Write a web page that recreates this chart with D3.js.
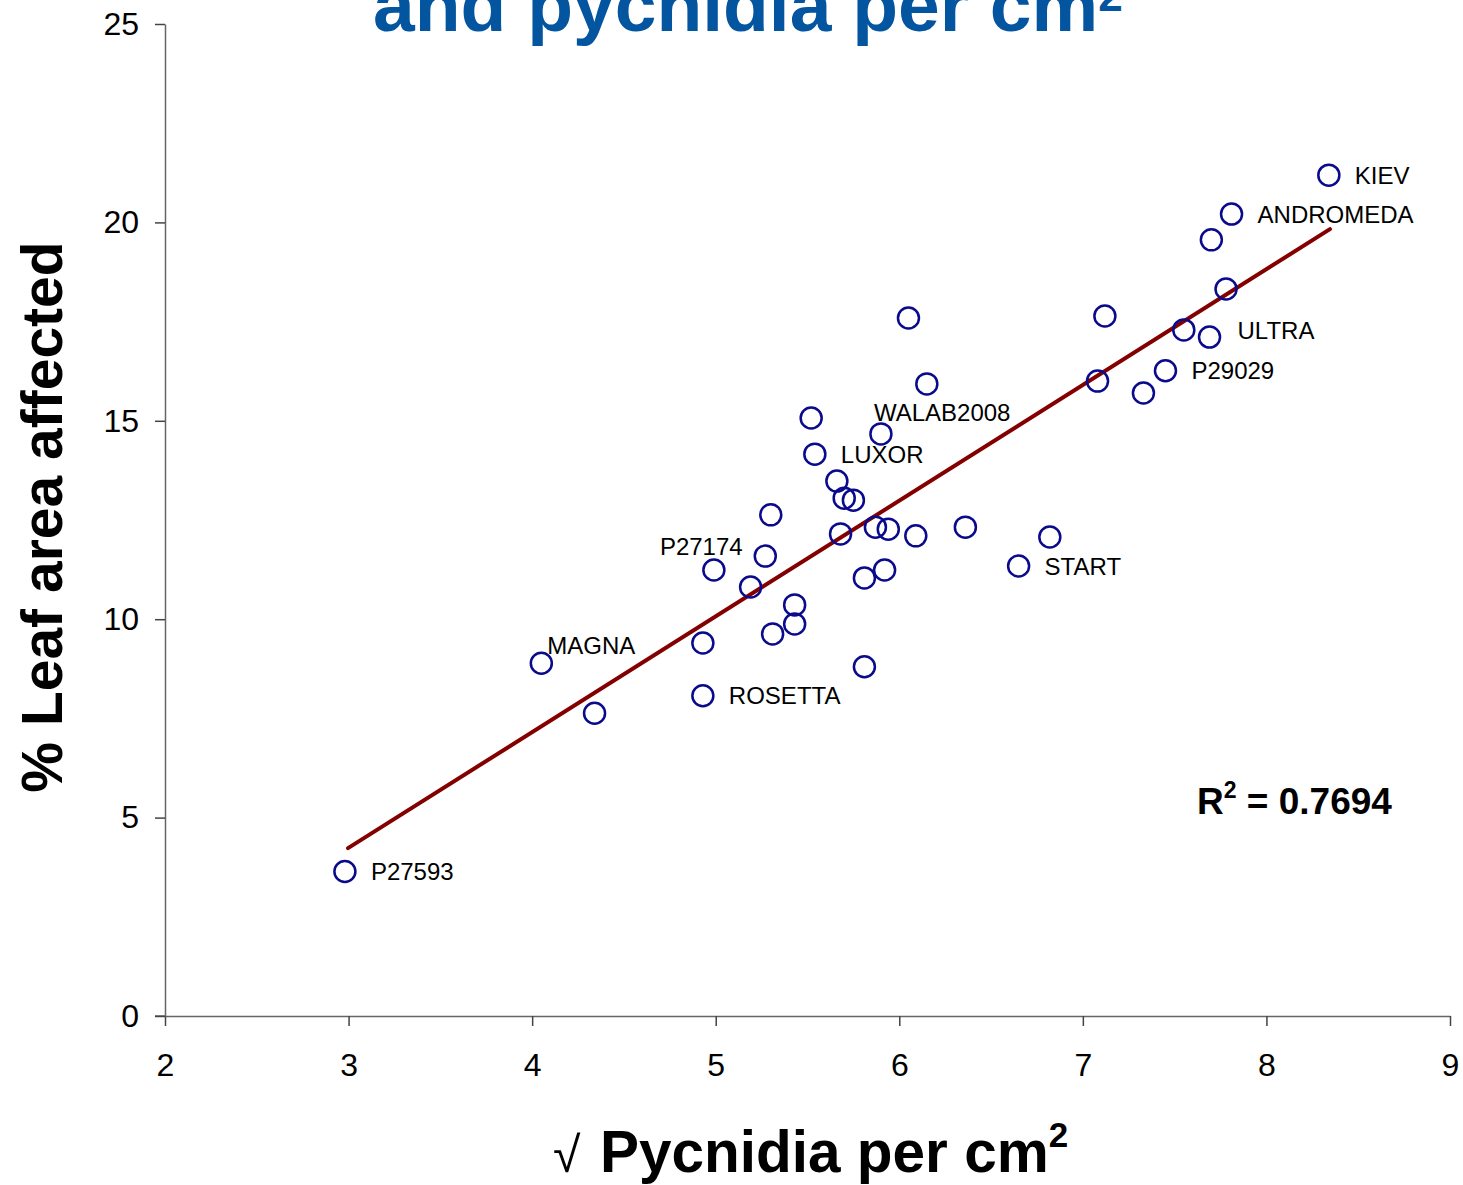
<!DOCTYPE html>
<html>
<head>
<meta charset="utf-8">
<script src="https://cdn.jsdelivr.net/npm/d3@7"></script>
<style>
  body { margin: 0; background: #fff; }
  svg text { font-family: "Liberation Sans", Arial, sans-serif; }
</style>
</head>
<body>
<div id="chart"></div>
<script>
// sqrt pycnidia per cm2 (x) and % leaf area affected (y), one entry per variety
let pycnidia = [2.98, 4.05, 4.34, 4.93, 4.93, 4.99, 5.19, 5.27, 5.30, 5.31, 5.43, 5.43,
    5.52, 5.54, 5.66, 5.70, 5.75, 5.68, 5.81, 5.81, 5.87, 5.94, 5.92, 5.90, 6.05, 6.15,
    6.09, 6.36, 6.65, 6.82, 7.08, 7.12, 7.33, 7.45, 7.55, 7.69, 7.70, 7.78, 7.81, 8.34];
let leafArea = [3.64, 8.89, 7.63, 8.07, 9.40, 11.24, 10.81, 11.59, 12.63, 9.63, 10.36, 9.88,
    15.07, 14.16, 13.48, 13.05, 13.00, 12.15, 11.04, 8.80, 12.32, 12.27, 11.24, 14.67, 17.59, 15.93,
    12.10, 12.32, 11.34, 12.07, 16.00, 17.64, 15.70, 16.26, 17.29, 17.11, 19.56, 18.32, 20.21, 21.19];
let names = ["P27593", "MAGNA", "", "ROSETTA", "", "P27174", "", "", "", "", "", "",
    "", "LUXOR", "", "", "", "", "", "", "", "", "", "WALAB2008", "", "",
    "", "", "START", "", "", "", "", "P29029", "", "ULTRA", "", "", "ANDROMEDA", "KIEV"];

// linear trend line end points
let trendX = [2.997, 8.346];
let trendY = [4.23, 19.83];

let xTicks = [2, 3, 4, 5, 6, 7, 8, 9];
let yTicks = [0, 5, 10, 15, 20, 25];
let rSquared = "0.7694";

let width = 1463, height = 1185;
let margin = {top: 24, right: 13, bottom: 169, left: 165};
let innerW = width - margin.left - margin.right;
let innerH = height - margin.top - margin.bottom;

let svg = d3.select("#chart").append("svg")
    .attr("width", width)
    .attr("height", height);

// title (cut off at the top of the image)
let title = svg.append("text")
    .attr("x", 373)
    .attr("y", 31)
    .attr("fill", "#0455a0")
    .attr("font-weight", "bold")
    .attr("font-size", 75);
title.append("tspan").text("and pycnidia per cm");
title.append("tspan").attr("font-size", 44).attr("dy", -20).text("2");

let g = svg.append("g")
    .attr("transform", `translate(${margin.left},${margin.top})`);

let x = d3.scaleLinear().domain([2, 9]).range([0, innerW]);
let y = d3.scaleLinear().domain([0, 25]).range([innerH, 0]);

let xAxis = d3.axisBottom(x).tickValues(xTicks).tickFormat(d3.format("d"))
    .tickSize(10).tickSizeOuter(0).tickPadding(27);
let yAxis = d3.axisLeft(y).tickValues(yTicks).tickFormat(d3.format("d"))
    .tickSize(10).tickSizeOuter(0).tickPadding(16);

let xAxisGroup = g.append("g")
    .attr("transform", `translate(0,${innerH})`)
    .call(xAxis);
let yAxisGroup = g.append("g").call(yAxis);

[xAxisGroup, yAxisGroup].forEach(ax => {
    ax.select(".domain").attr("stroke", "#666").attr("stroke-width", 1.5);
    ax.selectAll(".tick line").attr("stroke", "#444").attr("stroke-width", 1.5);
    ax.selectAll(".tick text")
        .attr("font-family", "Liberation Sans, Arial, sans-serif")
        .attr("font-size", 32)
        .attr("fill", "#000");
});
// extend x-axis line left to meet the y tick at 0
xAxisGroup.append("line")
    .attr("x1", -10).attr("x2", 0)
    .attr("stroke", "#666").attr("stroke-width", 1.5);

// trend line
let line = d3.line().x(d => x(d[0])).y(d => y(d[1]));
g.append("path")
    .datum(d3.zip(trendX, trendY))
    .attr("d", line)
    .attr("fill", "none")
    .attr("stroke", "#840000")
    .attr("stroke-width", 4)
    .attr("stroke-linecap", "round");

let points = d3.zip(pycnidia, leafArea, names).map(d => ({x: d[0], y: d[1], name: d[2]}));

g.selectAll(".dot")
    .data(points)
    .enter().append("circle")
    .attr("class", "dot")
    .attr("cx", d => x(d.x))
    .attr("cy", d => y(d.y))
    .attr("r", 10.5)
    .attr("fill", "none")
    .attr("stroke", "#0a0a8c")
    .attr("stroke-width", 2.5);

// label placement: most sit to the right of the point, a few sit above
let labelShift = {
    "WALAB2008": [-7, -22],
    "P27174": [-54, -24],
    "MAGNA": [6, -18],
    "ULTRA": [28, -7]
};

g.selectAll(".label")
    .data(points.filter(d => d.name !== ""))
    .enter().append("text")
    .attr("class", "label")
    .attr("x", d => x(d.x) + (labelShift[d.name] ? labelShift[d.name][0] : 26))
    .attr("y", d => y(d.y) + (labelShift[d.name] ? labelShift[d.name][1] : 0))
    .attr("dy", "0.36em")
    .attr("font-size", 24)
    .attr("fill", "#000")
    .text(d => d.name);

// R squared
let r2 = svg.append("text")
    .attr("x", 1197)
    .attr("y", 814)
    .attr("font-weight", "bold")
    .attr("font-size", 37);
r2.append("tspan").text("R");
r2.append("tspan").attr("font-size", 23).attr("dy", -16).text("2");
r2.append("tspan").attr("dy", 16).text(" = " + rSquared);

// axis titles
svg.append("text")
    .attr("transform", "translate(62,517) rotate(-90)")
    .attr("text-anchor", "middle")
    .attr("font-weight", "bold")
    .attr("font-size", 57)
    .text("% Leaf area affected");

svg.append("text")
    .attr("x", 553)
    .attr("y", 1172)
    .attr("font-size", 50)
    .text("√");

let xt = svg.append("text")
    .attr("x", 600)
    .attr("y", 1172)
    .attr("font-weight", "bold")
    .attr("font-size", 58.5);
xt.append("tspan").text("Pycnidia per cm");
xt.append("tspan").attr("font-size", 35).attr("dy", -25).text("2");
</script>
</body>
</html>
